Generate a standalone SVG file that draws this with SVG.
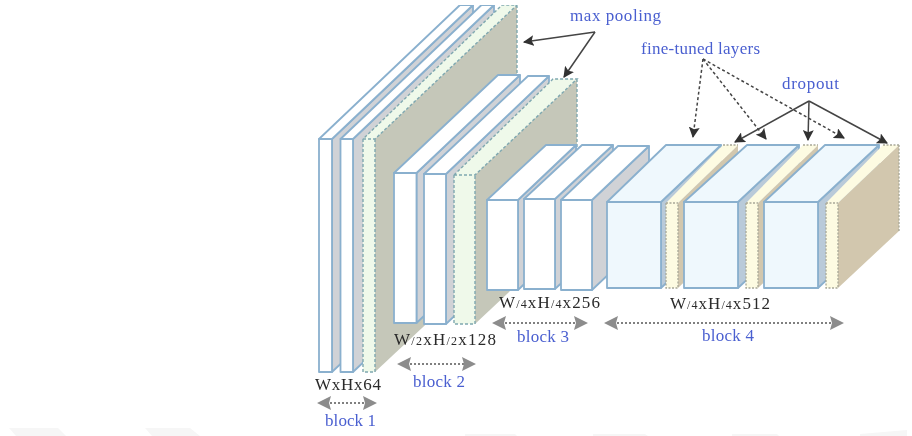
<svg xmlns="http://www.w3.org/2000/svg" width="912" height="436" viewBox="0 0 912 436">
<style>
text{font-family:"Liberation Serif","Times New Roman",serif;font-size:17px}
.b{fill:#4a5fd0}
.k{fill:#2a2a2a}
.s{font-size:12px}
.l{stroke:#8ab0ce;stroke-width:1.8;stroke-linejoin:round}
.d{stroke:#7fa8b0;stroke-width:1.4;stroke-dasharray:3 2}
.e{stroke:#a8a898;stroke-width:1.3;stroke-dasharray:2 1.5}
.w{fill:#fff}
.g{fill:#d0d2d6}
.sb{fill:#b9cad9}
.f{fill:#eff8fd}
.n{fill:#eff9ea}
.c{fill:#fdfbe2}
.o{fill:#c5c7b9}
.t{fill:#d2c7ae}
.ar{fill:none;stroke:#444;stroke-width:1.5}
.da{stroke-dasharray:3 2.5}
.ga{fill:none;stroke:#808080;stroke-width:2;stroke-dasharray:2 2}
.gh{fill:#8c8c8c}
.wm{fill:#f6f6f6}
</style>
<defs>
<marker id="ah" viewBox="0 0 10 10" refX="9" refY="5" markerWidth="11" markerHeight="11" markerUnits="userSpaceOnUse" orient="auto"><path d="M0 0L10 5L0 10L2 5Z" fill="#333"/></marker>
<filter id="soft" x="0" y="0" width="100%" height="100%"><feGaussianBlur stdDeviation="0.45"/></filter>
</defs>
<rect width="912" height="436" fill="#fff"/>
<g id="all" filter="url(#soft)">
<g id="faint">
<polygon class="wm" points="9,428 58,428 66,436 16,436"/>
<polygon class="wm" points="145,428 190,428 200,436 152,436"/>
<polygon class="wm" points="465,434 515,434 517,436 465,436"/>
<polygon class="wm" points="593,434 645,434 648,436 593,436"/>
<polygon class="wm" points="732,434 777,434 779,436 732,436"/>
<polygon class="wm" points="860,434 907,430 907,436 860,436"/>
</g>

<g id="b1-l1">
<polygon class="g l" points="332,139 473,5 473,239 332,372"/>
<polygon class="w l" points="319,139 332,139 473,5 460,5"/>
<rect class="w l" x="319" y="139" width="13" height="233"/>
</g>
<g id="b1-l2">
<polygon class="g l" points="353,139 494,5 494,239 353,372"/>
<polygon class="w l" points="340.500,139 353,139 494,5 481.500,5"/>
<rect class="w l" x="340.500" y="139" width="12.500" height="233"/>
</g>
<g id="b1-l3">
<polygon class="o" points="375,139 517,5 517,239 375,372"/>
<polygon class="n" points="363,139 375,139 517,5 502,5"/>
<rect class="n" x="363" y="139" width="12" height="233"/>
<path class="d" fill="none" d="M363 139H375L517 5H502L363 139M517 5V239M363 139V372H375V139"/>
</g>

<g id="b2-l1">
<polygon class="g l" points="416.500,173 520,75 520,225 416.500,323"/>
<polygon class="w l" points="394,173 416.500,173 520,75 498,75"/>
<rect class="w l" x="394" y="173" width="22.500" height="150"/>
</g>
<g id="b2-l2">
<polygon class="g l" points="446,174 549,76 549,226 446,324"/>
<polygon class="w l" points="424,174 446,174 549,76 528,76"/>
<rect class="w l" x="424" y="174" width="22" height="150"/>
</g>
<g id="b2-l3">
<polygon class="o" points="475,175 577,79 577,228 475,324"/>
<polygon class="n" points="454,175 475,175 577,79 553,79"/>
<rect class="n" x="454" y="175" width="21" height="149"/>
<path class="d" fill="none" d="M454 175H475L577 79H553L454 175M577 79V228M454 175V324H475V175"/>
</g>

<g id="b3-l1">
<polygon class="g l" points="518,200 576,145 576,235 518,290"/>
<polygon class="w l" points="487,200 518,200 576,145 546,145"/>
<rect class="w l" x="487" y="200" width="31" height="90"/>
</g>
<g id="b3-l2">
<polygon class="g l" points="555,199 613,145 613,235 555,289"/>
<polygon class="w l" points="524,199 555,199 613,145 582,145"/>
<rect class="w l" x="524" y="199" width="31" height="90"/>
</g>
<g id="b3-l3">
<polygon class="g l" points="592,200 649,146 649,236 592,290"/>
<polygon class="w l" points="561,200 592,200 649,146 618,146"/>
<rect class="w l" x="561" y="200" width="31" height="90"/>
</g>

<g id="b4-l1">
<polygon class="sb l" points="661,202 721,145 721,231 661,288"/>
<polygon class="f l" points="607,202 661,202 721,145 666,145"/>
<rect class="f l" x="607" y="202" width="54" height="86"/>
</g>
<g id="b4-d1">
<polygon class="t" points="678,203 738,145 738,231 678,288"/>
<polygon class="c" points="666,203 678,203 738,145 723,145"/>
<rect class="c" x="666" y="203" width="12" height="85"/>
<path class="e" fill="none" d="M723 145H738M666 203H678M666 203V288H678V203"/>
</g>
<g id="b4-l2">
<polygon class="sb l" points="738,202 799,145 799,231 738,288"/>
<polygon class="f l" points="684,202 738,202 799,145 747,145"/>
<rect class="f l" x="684" y="202" width="54" height="86"/>
</g>
<g id="b4-d2">
<polygon class="t" points="758,203 818,145 818,231 758,288"/>
<polygon class="c" points="746,203 758,203 818,145 803,145"/>
<rect class="c" x="746" y="203" width="12" height="85"/>
<path class="e" fill="none" d="M803 145H818M746 203H758M746 203V288H758V203"/>
</g>
<g id="b4-l3">
<polygon class="sb l" points="818,202 879,145 879,231 818,288"/>
<polygon class="f l" points="764,202 818,202 879,145 825,145"/>
<rect class="f l" x="764" y="202" width="54" height="86"/>
</g>
<g id="b4-d3">
<polygon class="t" points="838,203 899,145 899,231 838,288"/>
<polygon class="c" points="826,203 838,203 899,145 883,145"/>
<rect class="c" x="826" y="203" width="12" height="85"/>
<path class="e" fill="none" d="M883 145H899M826 203H838M826 203V288H838V203M899 145V231"/>
</g>

<g id="connectors">
<line class="ar" x1="595" y1="32" x2="524" y2="42" marker-end="url(#ah)"/>
<line class="ar" x1="595" y1="32" x2="564" y2="77" marker-end="url(#ah)"/>
<line class="ar da" x1="703" y1="59" x2="693" y2="137" marker-end="url(#ah)"/>
<line class="ar da" x1="703" y1="59" x2="766" y2="139" marker-end="url(#ah)"/>
<line class="ar da" x1="703" y1="59" x2="844" y2="138" marker-end="url(#ah)"/>
<line class="ar" x1="809" y1="101" x2="735" y2="142" marker-end="url(#ah)"/>
<line class="ar" x1="809" y1="101" x2="808" y2="140" marker-end="url(#ah)"/>
<line class="ar" x1="809" y1="101" x2="887" y2="143" marker-end="url(#ah)"/>
<g id="span1"><line class="ga" x1="330" y1="403" x2="365" y2="403"/><path class="gh" d="M317 403L331 396L329 403L331 410ZM377 403L363 396L365 403L363 410Z"/></g>
<g id="span2"><line class="ga" x1="410" y1="364" x2="464" y2="364"/><path class="gh" d="M397 364L411 357L409 364L411 371ZM476 364L462 357L464 364L462 371Z"/></g>
<g id="span3"><line class="ga" x1="505" y1="323" x2="576" y2="323"/><path class="gh" d="M492 323L506 316L504 323L506 330ZM588 323L574 316L576 323L574 330Z"/></g>
<g id="span4"><line class="ga" x1="617" y1="323" x2="832" y2="323"/><path class="gh" d="M604 323L618 316L616 323L618 330ZM844 323L830 316L832 323L830 330Z"/></g>
</g>

<g id="labels">
<text class="b" x="570" y="21" textLength="91">max pooling</text>
<text class="b" x="641" y="54" textLength="119">fine-tuned layers</text>
<text class="b" x="782" y="89" textLength="57">dropout</text>
<text class="k" x="315" y="390" textLength="66">WxHx64</text>
<text class="k" x="394" y="345" textLength="102">W<tspan class="s">/2</tspan>xH<tspan class="s">/2</tspan>x128</text>
<text class="k" x="499" y="308" textLength="101">W<tspan class="s">/4</tspan>xH<tspan class="s">/4</tspan>x256</text>
<text class="k" x="670" y="309" textLength="100">W<tspan class="s">/4</tspan>xH<tspan class="s">/4</tspan>x512</text>
<text class="b" x="325" y="426" textLength="51">block 1</text>
<text class="b" x="413" y="387" textLength="52">block 2</text>
<text class="b" x="517" y="342" textLength="52">block 3</text>
<text class="b" x="702" y="341" textLength="52">block 4</text>
</g>
</g>
</svg>
